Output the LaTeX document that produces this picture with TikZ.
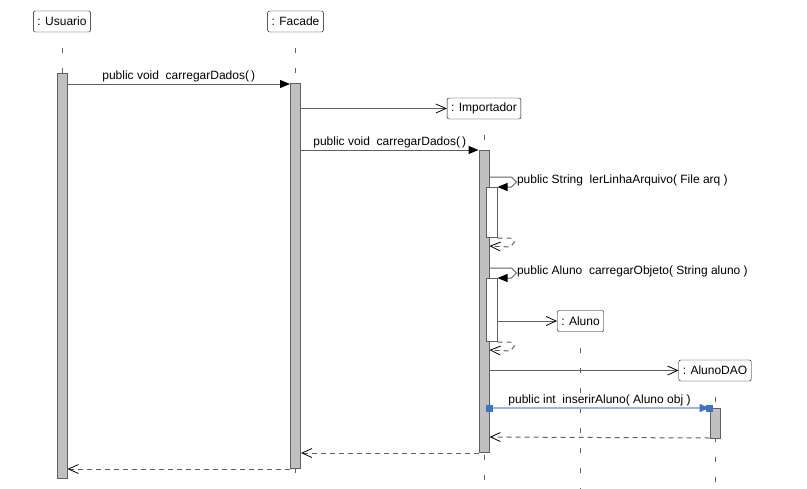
\documentclass[tikz,border=0pt]{standalone}
\usepackage{fontspec}
\setmainfont{Liberation Sans}
\usetikzlibrary{positioning, arrows.meta}
\definecolor{linegray}{HTML}{606060}
\definecolor{barfill}{HTML}{C0C0C0}
\definecolor{selblue}{HTML}{3D72C4}
\definecolor{sellight}{HTML}{9DB5E0}
\tikzset{
    x=1pt, y=-1pt, % one unit is one pixel, y grows downwards
    font=\fontsize{12}{14}\selectfont,
    object/.style={draw=black, fill=white, rounded corners=2pt, inner sep=4pt, minimum height=21pt}, % heads of the lifelines
    bar/.style={draw=linegray, fill=barfill, line width=1pt, minimum width=10pt, inner sep=0pt, anchor=north}, % activation bars
    innerbar/.style={bar, fill=white, minimum width=11pt}, % nested activation of a self call
    lifeline/.style={draw=linegray, line width=1pt, dash pattern=on 5pt off 15pt},
    call/.style={draw=linegray, line width=1pt, -{Triangle[length=10pt, width=8pt, color=black]}},
    create/.style={draw=linegray, line width=1pt, -{Straight Barb[length=10pt, width=9pt, line width=0.8pt, color=black]}},
    reply/.style={draw=linegray, line width=1pt, dash pattern=on 5pt off 4pt, -{Straight Barb[length=10pt, width=9pt, line width=0.8pt, color=black]}},
    selected/.style={draw=sellight, line width=1.2pt, -{Triangle[length=10pt, width=8pt, color=selblue]}},
    handle/.style={fill=selblue, minimum size=7pt, inner sep=0pt},
    lab/.style={inner sep=1.5pt},
}

\begin{document}
\begin{tikzpicture}
    \useasboundingbox (0,0) rectangle (807,488);

    % lifeline heads
    \node[object] (usuario) at (62,21.5) {: Usuario};
    \node[object] (facade) at (295.5,21.5) {: Facade};
    \node[object] (importador) at (484,108.5) {: Importador};
    \node[object] (aluno) at (580.5,321) {: Aluno};
    \node[object] (alunodao) at (715,370.5) {: AlunoDAO};

    % lifelines
    \foreach \obj in {usuario, facade, importador, aluno, alunodao}
        \draw[lifeline] ([yshift=-16pt]\obj.south) -- (\obj.south |- 0,488);

    % activations
    \node[bar, minimum height=405pt] (actU) at (62,73) {};
    \node[bar, minimum height=385pt] (actF) at (295.5,83) {};
    \node[bar, minimum height=302pt] (actI) at (484,150) {};
    \node[innerbar, minimum height=50pt] (nest1) at (491.5,187) {};
    \node[innerbar, minimum height=63pt] (nest2) at (491.5,278) {};
    \node[bar, minimum height=30pt] (actD) at (715,408) {};

    % messages
    \draw[call] (actU.east |- 0,84) -- node[lab, above] {public void\ \ carregarDados(\,)} (actF.west |- 0,84);
    \draw[create] (actF.east |- importador) -- (importador.west);
    \draw[call] (actF.east |- 0,150) -- node[lab, above] {public void\ \ carregarDados(\,)} (actI.north west);

    \draw[call] (actI.east |- 0,177) -- ++(22,0) -- ++(5,5)
        node[anchor=west, inner sep=0pt, yshift=2pt] {public String\ \ lerLinhaArquivo( File arq )}
        -- ++(-5,5) -- (nest1.north east);
    \draw[reply] (nest1.south east) -- ++(13,0) -- ++(4,4) -- ++(-4,5) -- (actI.east |- 0,246);

    \draw[call] (actI.east |- 0,268) -- ++(22,0) -- ++(5,5)
        node[anchor=west, inner sep=0pt, yshift=2pt] {public Aluno\ \ carregarObjeto( String aluno )}
        -- ++(-5,5) -- (nest2.north east);
    \draw[create] (nest2.east |- aluno) -- (aluno.west);
    \draw[reply] (nest2.south east) -- ++(13,0) -- ++(4,4) -- ++(-4,5) -- (actI.east |- 0,350);

    \draw[create] (actI.east |- alunodao) -- (alunodao.west);
    \draw[selected] (actI.east |- actD.north) -- node[lab, above, black] {public int\ \ inserirAluno( Aluno obj )} (actD.north west);
    \node[handle] (h1) at (actI.east |- actD.north) {};
    \node[handle] (h2) at (actD.north west) {};

    \draw[reply] ([yshift=1pt]actD.south west) -- (actI.east |- 0,437);
    \draw[reply] (actI.south west) -- (actF.east |- actI.south);
    \draw[reply] (actF.south west) -- (actU.east |- actF.south);
\end{tikzpicture}
\end{document}
